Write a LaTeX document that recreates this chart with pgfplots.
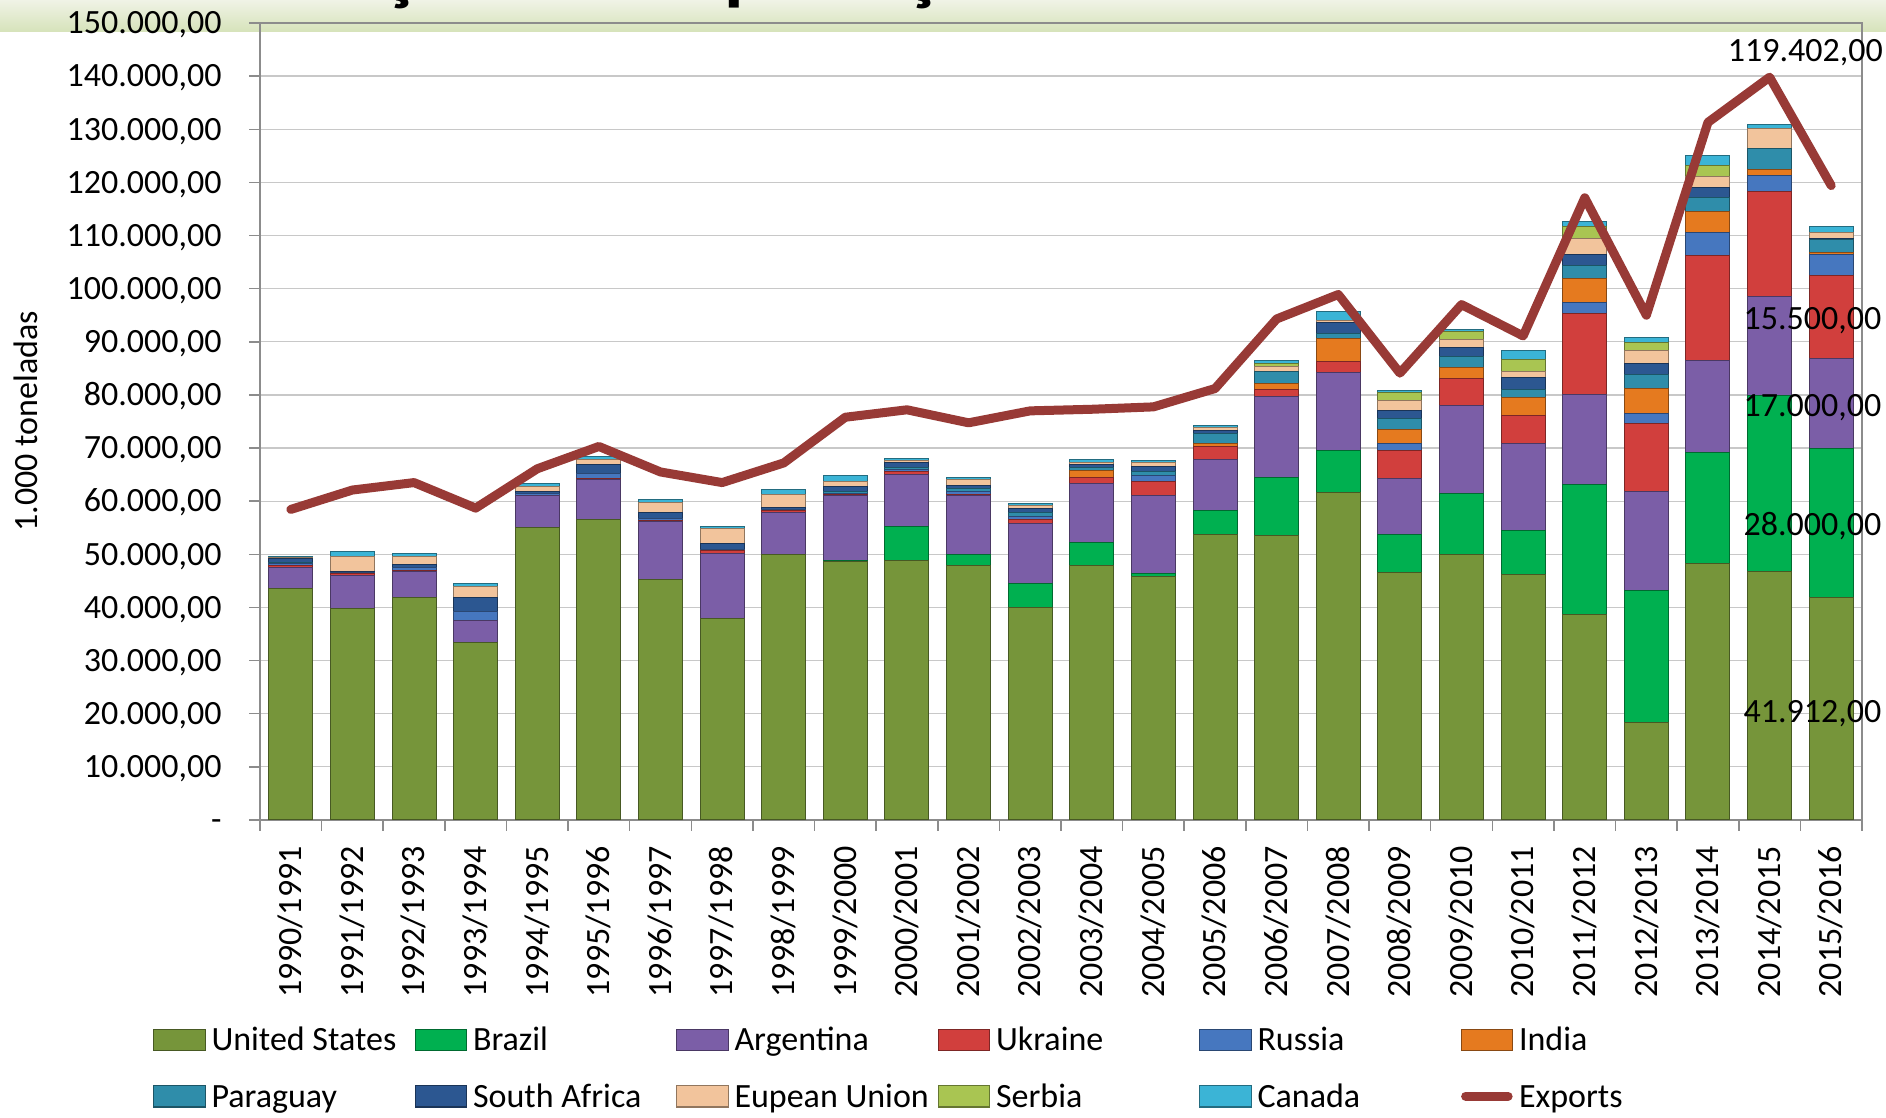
\documentclass[border=0pt]{standalone}
\usepackage{pgfplots}
\usepackage{pgfplotstable}
\pgfplotsset{compat=1.18}
\usepackage{fontspec}
\setmainfont{Carlito}
\definecolor{cUS}{HTML}{76953A}
\definecolor{cBR}{HTML}{00B050}
\definecolor{cAR}{HTML}{7B5EA7}
\definecolor{cUA}{HTML}{D13F3D}
\definecolor{cRU}{HTML}{4677BF}
\definecolor{cIN}{HTML}{E57A1F}
\definecolor{cPY}{HTML}{2F8DAA}
\definecolor{cZA}{HTML}{2C5791}
\definecolor{cEU}{HTML}{F2C49C}
\definecolor{cRS}{HTML}{A9C552}
\definecolor{cCA}{HTML}{3BB4D6}
\definecolor{cEX}{HTML}{983A36}
\definecolor{axiscol}{HTML}{8C8C8C}
\definecolor{gridcol}{HTML}{C8C8C8}
\definecolor{bandtop}{HTML}{F0F3E6}
\definecolor{bandbot}{HTML}{D6E3BA}
\newcommand{\fs}{\fontsize{13.6pt}{16pt}\selectfont}
\newcommand{\legtxt}[1]{\makebox[78.9pt][l]{#1}}
\pgfplotstableread{
x US BR AR UA RU IN PY ZA EU RS CA EX
0 43600 0 3950 300 400 0 300 700 200 0 150 58450
1 39800 0 6300 200 200 0 0 300 2700 0 1000 62100
2 41900 0 4900 150 600 0 0 600 1400 0 700 63500
3 33400 0 4200 0 1700 0 0 2600 2100 0 500 58700
4 55000 0 6000 100 300 0 0 400 1000 0 500 66100
5 56500 0 7500 200 1000 0 0 1800 800 0 700 70300
6 45300 0 10900 200 300 0 0 1200 1800 0 650 65500
7 37900 0 12300 450 300 0 0 1100 2800 0 400 63500
8 50000 0 7900 300 200 0 0 500 2400 0 900 67200
9 48700 200 12100 200 300 0 300 900 1000 0 1100 75800
10 48900 6300 9800 500 400 0 500 800 500 0 400 77200
11 47900 2100 11000 300 500 0 500 700 1000 0 400 74750
12 39900 4700 11200 700 700 0 700 700 600 0 400 77000
13 47900 4400 11100 1100 0 1200 600 600 400 0 500 77300
14 45800 600 14750 2500 1200 0 800 900 700 0 350 77750
15 53800 4500 9600 2400 0 500 2000 500 500 0 400 81200
16 53600 10850 15300 1200 0 1200 2300 0 900 600 600 94300
17 61700 7800 14700 2000 0 4400 1000 2000 400 0 1700 98900
18 46600 7200 10400 5400 1300 2600 2000 1500 2000 1400 500 84100
19 49950 11500 16500 5200 0 2100 2000 1700 1500 1400 400 97000
20 46200 8350 16400 5100 0 3500 1400 2300 1200 2200 1700 91100
21 38700 24450 17000 15200 2000 4500 2500 2000 3100 2300 800 117100
22 18300 24800 18700 12900 1800 4800 2600 2100 2300 1600 900 95000
23 48300 20900 17200 19900 4300 4000 2500 1900 2200 1900 1900 131300
24 46800 33100 18600 19700 3100 1200 3900 0 3750 0 800 139800
25 41912 28000 17000 15500 4000 300 2500 300 1100 0 1000 119402
}\data
\pgfplotsset{bs/.style={fill=#1, draw=#1!60!black, line width=0.4pt}}
\begin{document}
\begin{tikzpicture}[font=\fs]
\shade[top color=bandtop, bottom color=bandbot] (0pt,434.1pt) rectangle (754.4pt,446.8pt);
\node[anchor=base west, font=\fontsize{32pt}{38pt}\selectfont\bfseries, inner sep=0pt] at (80.8pt,448.5pt) {Evolução das exportações mundiais de milho};
\begin{axis}[
  at={(104pt,118.8pt)}, anchor=south west,
  scale only axis, width=640.8pt, height=318.8pt,
  xmin=-0.5, xmax=25.5, ymin=0, ymax=150000,
  ybar stacked, bar width=17.6pt,
  axis line style={color=axiscol, line width=0.6pt},
  ymajorgrids, grid style={color=gridcol, line width=0.5pt},
  tick align=outside, tick pos=left,
  major tick length=4.4pt, minor tick length=4.4pt,
  xtick={0,...,25},
  xticklabels={1990/1991,1991/1992,1992/1993,1993/1994,1994/1995,1995/1996,1996/1997,1997/1998,1998/1999,1999/2000,2000/2001,2001/2002,2002/2003,2003/2004,2004/2005,2005/2006,2006/2007,2007/2008,2008/2009,2009/2010,2010/2011,2011/2012,2012/2013,2013/2014,2014/2015,2015/2016},
  major x tick style={draw=none},
  minor xtick={-0.5,0.5,...,25.5},
  minor x tick style={color=axiscol, line width=0.6pt},
  ytick={0,10000,...,150000},
  yticklabels={{-\hspace{6pt}},{10.000,00},{20.000,00},{30.000,00},{40.000,00},{50.000,00},{60.000,00},{70.000,00},{80.000,00},{90.000,00},{100.000,00},{110.000,00},{120.000,00},{130.000,00},{140.000,00},{150.000,00}},
  major y tick style={color=axiscol, line width=0.6pt},
  scaled y ticks=false,
  xticklabel style={rotate=90, anchor=east, inner sep=0pt, text height=8.6pt, text depth=0pt, font=\fs},
  yticklabel style={anchor=east, inner sep=0pt, text height=8.6pt, text depth=0pt, font=\fs},
  xticklabel shift=5.9pt, yticklabel shift=10.8pt,
  ylabel={1.000 toneladas},
  every axis y label/.style={at={(axis description cs:-0.13858,0.5)}, rotate=90, anchor=base, font=\fs},
  legend columns=6,
  legend image code/.code={\draw[#1, line width=0.5pt] (0pt,0pt) rectangle (20.6pt,8.6pt);},
  legend style={at={(-0.06679,-0.2598)}, anchor=north west, draw=none, fill=none, inner sep=0pt, outer sep=0pt, font=\fs,
    cells={anchor=base west},
    nodes={inner xsep=2.3pt, inner ysep=0pt, text height=9.5pt, text depth=3pt},
    /tikz/row sep=10.0pt, /tikz/column sep=0pt},
]
\addplot[bs=cUS] table[x=x,y=US] {\data}; \addlegendentry{\legtxt{United States}}
\addplot[bs=cBR] table[x=x,y=BR] {\data}; \addlegendentry{\legtxt{Brazil}}
\addplot[bs=cAR] table[x=x,y=AR] {\data}; \addlegendentry{\legtxt{Argentina}}
\addplot[bs=cUA] table[x=x,y=UA] {\data}; \addlegendentry{\legtxt{Ukraine}}
\addplot[bs=cRU] table[x=x,y=RU] {\data}; \addlegendentry{\legtxt{Russia}}
\addplot[bs=cIN] table[x=x,y=IN] {\data}; \addlegendentry{\legtxt{India}}
\addplot[bs=cPY] table[x=x,y=PY] {\data}; \addlegendentry{\legtxt{Paraguay}}
\addplot[bs=cZA] table[x=x,y=ZA] {\data}; \addlegendentry{\legtxt{South Africa}}
\addplot[bs=cEU] table[x=x,y=EU] {\data}; \addlegendentry{\legtxt{Eupean Union}}
\addplot[bs=cRS] table[x=x,y=RS] {\data}; \addlegendentry{\legtxt{Serbia}}
\addplot[bs=cCA] table[x=x,y=CA] {\data}; \addlegendentry{\legtxt{Canada}}
\addlegendimage{legend image code/.code={\draw[cEX, line width=3.6pt, line cap=round] (1.8pt,4.3pt) -- (18.8pt,4.3pt);}}
\addlegendentry{\legtxt{Exports}}
\end{axis}
\begin{axis}[
  at={(104pt,118.8pt)}, anchor=south west,
  scale only axis, width=640.8pt, height=318.8pt,
  xmin=-0.5, xmax=25.5, ymin=0, ymax=150000,
  hide axis, clip=false,
]
\addplot[cEX, line width=3.6pt, line join=round, line cap=round] table[x=x,y=EX] {\data};
\node[font=\fs, inner sep=0pt, text height=8.6pt, text depth=0pt] at (axis cs:24.697,20450) {41.912,00};
\node[font=\fs, inner sep=0pt, text height=8.6pt, text depth=0pt] at (axis cs:24.697,55500) {28.000,00};
\node[font=\fs, inner sep=0pt, text height=8.6pt, text depth=0pt] at (axis cs:24.697,78000) {17.000,00};
\node[font=\fs, inner sep=0pt, text height=8.6pt, text depth=0pt] at (axis cs:24.697,94300) {15.500,00};
\node[font=\fs, inner sep=0pt, text height=8.6pt, text depth=0pt] at (axis cs:24.58,144800) {119.402,00};
\end{axis}
\pgfresetboundingbox
\path[use as bounding box] (0pt,0pt) rectangle (754.4pt,446.8pt);
\end{tikzpicture}
\end{document}
